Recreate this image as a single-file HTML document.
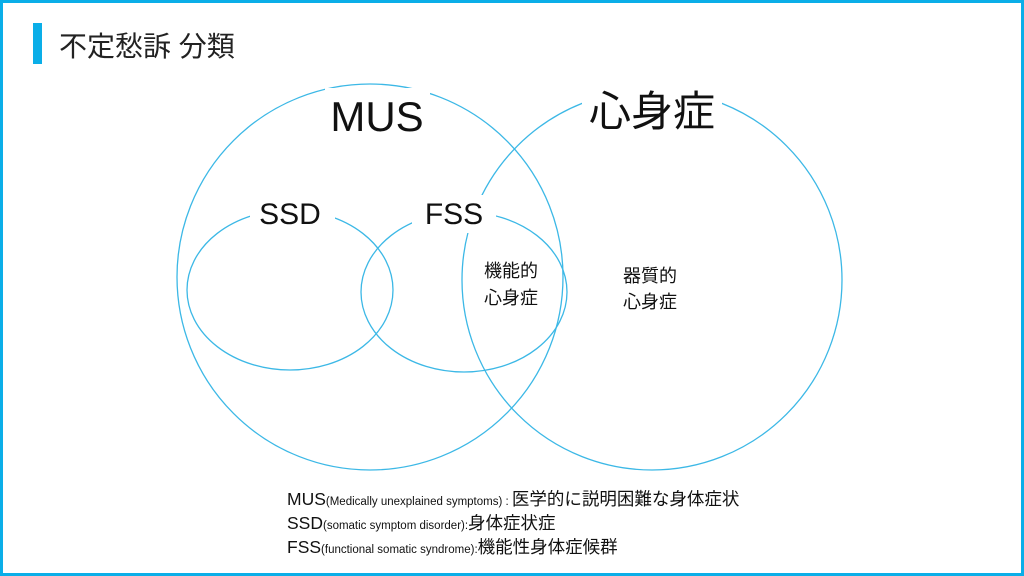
<!DOCTYPE html>
<html><head><meta charset="utf-8"><style>
body{margin:0;width:1024px;height:576px;overflow:hidden;background:#fff;font-family:"Liberation Sans","Noto Sans CJK JP",sans-serif;}
.frame{position:absolute;left:0;top:0;width:1018px;height:570px;border:3px solid #0aaee8;}
.bar{position:absolute;left:33px;top:23px;width:9px;height:41px;background:#0aaee8;}
.title{position:absolute;left:59px;top:25px;font-size:28px;color:#222;}
.leg{position:absolute;left:287px;font-size:17.5px;color:#111;white-space:nowrap;}
.leg small{font-size:11.5px;}
</style></head><body>
<div class="frame"></div>
<div class="bar"></div>
<div class="title">不定愁訴 分類</div>
<svg width="1024" height="576" style="position:absolute;left:0;top:0" font-family="Liberation Sans, Noto Sans CJK JP, sans-serif">
<g fill="none" stroke="#3cb8e6" stroke-width="1.3">
<circle cx="370" cy="277" r="193"/>
<circle cx="652" cy="280" r="190"/>
<ellipse cx="290" cy="290" rx="103" ry="80"/>
<ellipse cx="464" cy="292" rx="103" ry="80"/>
</g>
<g fill="#fff">
<rect x="325" y="88" width="105" height="45"/>
<rect x="582" y="85" width="140" height="50"/>
<rect x="250" y="195" width="85" height="38"/>
<rect x="412" y="195" width="84" height="38"/>
</g>
<g fill="#111" text-anchor="middle">
<text x="377" y="131" font-size="42">MUS</text>
<text x="652" y="126" font-size="42">心身症</text>
<text x="290" y="224" font-size="30">SSD</text>
<text x="454" y="224" font-size="30">FSS</text>
<text x="511" y="277" font-size="18">機能的</text>
<text x="511" y="304" font-size="18">心身症</text>
<text x="650" y="282" font-size="18">器質的</text>
<text x="650" y="308" font-size="18">心身症</text>
</g>
</svg>
<div class="leg" style="top:486px">MUS<small>(Medically unexplained symptoms) : </small>医学的に説明困難な身体症状</div>
<div class="leg" style="top:510px">SSD<small>(somatic symptom disorder):</small>身体症状症</div>
<div class="leg" style="top:534px">FSS<small>(functional somatic syndrome):</small>機能性身体症候群</div>
</body></html>
